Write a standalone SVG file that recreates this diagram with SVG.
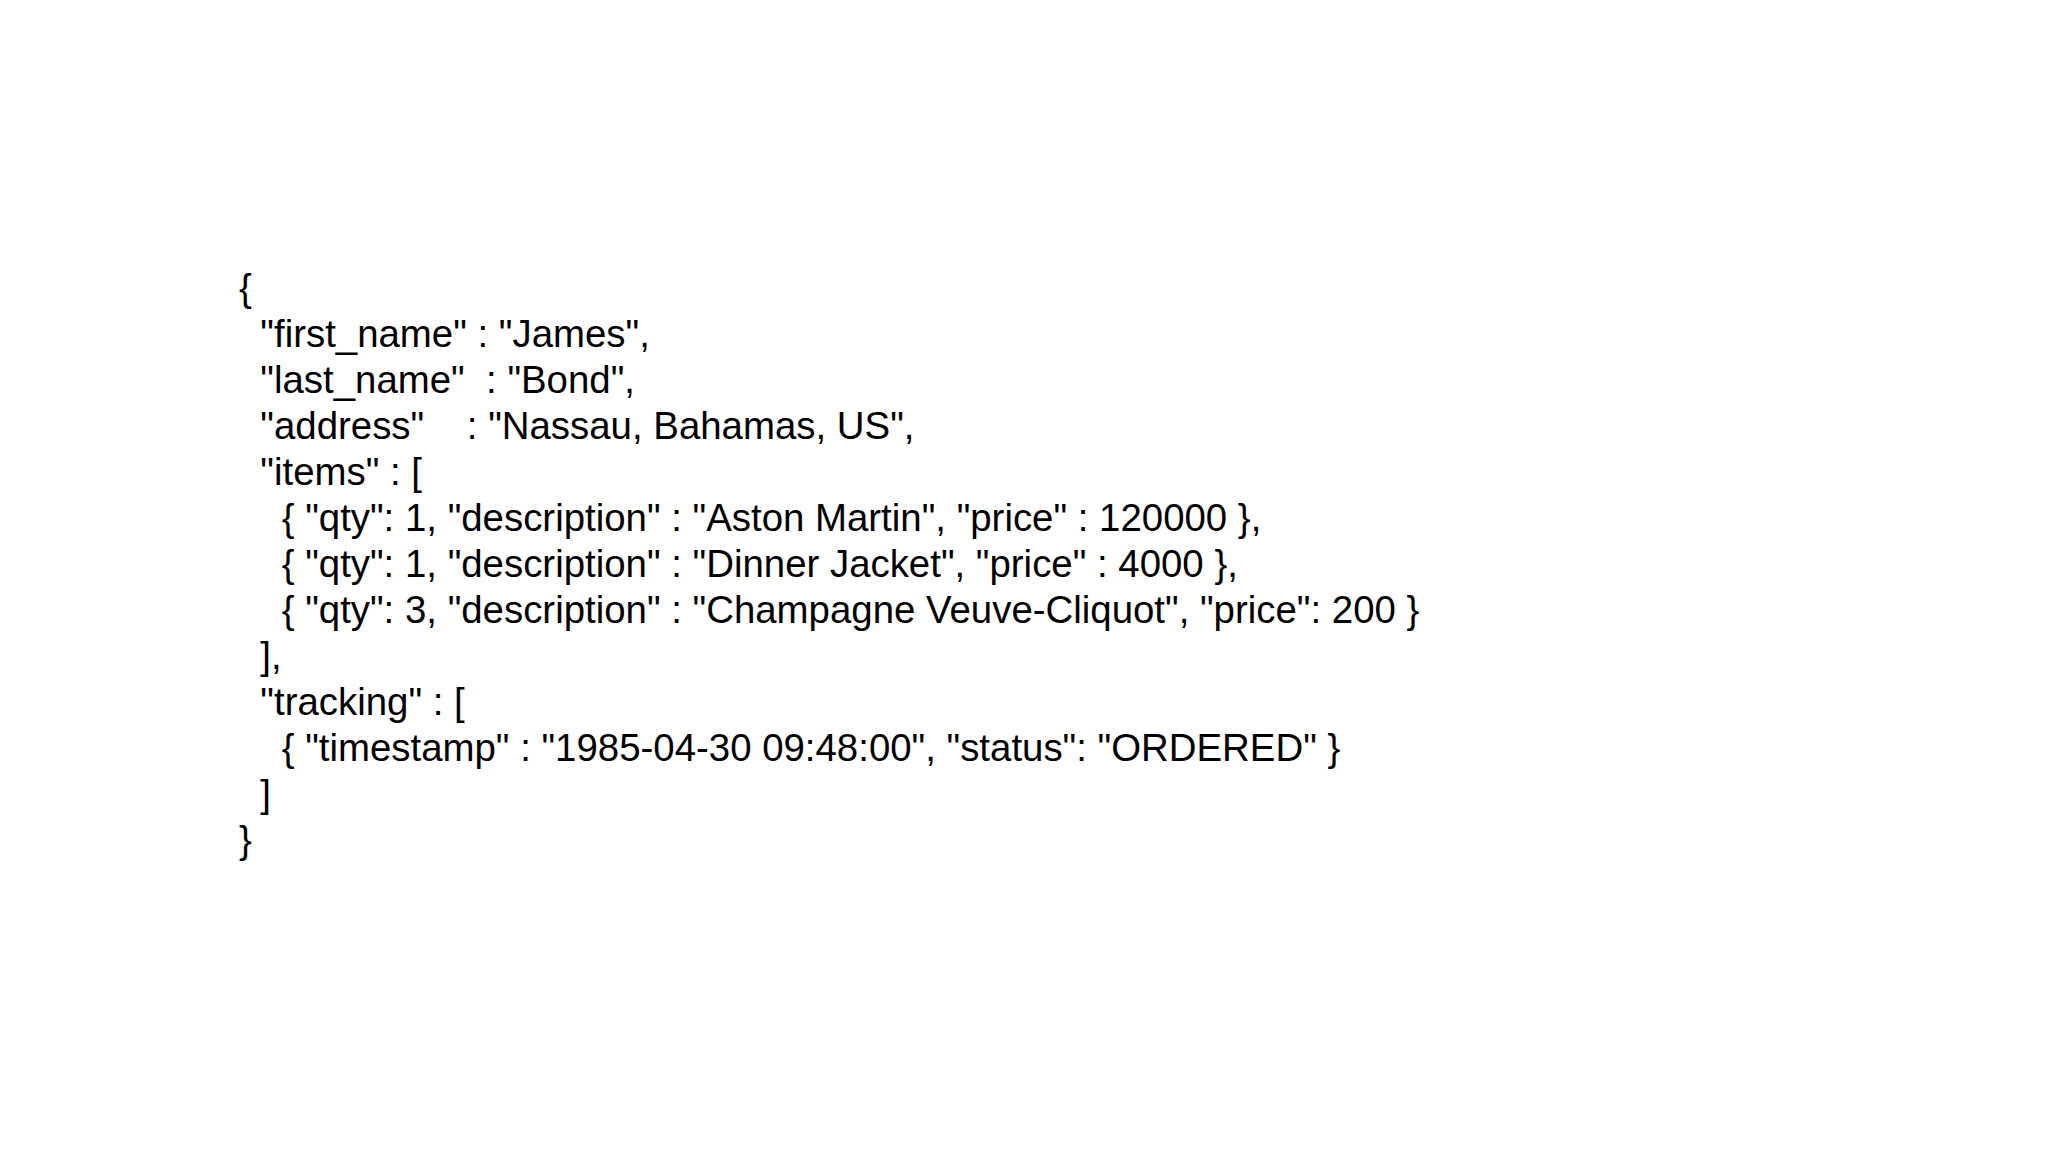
<svg xmlns="http://www.w3.org/2000/svg" width="2048" height="1152" viewBox="0 0 2048 1152">
<style>text{font-family:"Liberation Sans",Arial,sans-serif;font-size:38.4px;fill:#000;white-space:pre}</style>
<rect width="2048" height="1152" fill="#fff"/>
<g id="json" xml:space="preserve">
<text x="239" y="301">{</text>
<text x="239" y="347">  "first_name" : "James",</text>
<text x="239" y="393">  "last_name"  : "Bond",</text>
<text x="239" y="439">  "address"    : "Nassau, Bahamas, US",</text>
<text x="239" y="485">  "items" : [</text>
<text x="239" y="531">    { "qty": 1, "description" : "Aston Martin", "price" : 120000 },</text>
<text x="239" y="577">    { "qty": 1, "description" : "Dinner Jacket", "price" : 4000 },</text>
<text x="239" y="623">    { "qty": 3, "description" : "Champagne Veuve-Cliquot", "price": 200 }</text>
<text x="239" y="669">  ],</text>
<text x="239" y="715">  "tracking" : [</text>
<text x="239" y="761">    { "timestamp" : "1985-04-30 09:48:00", "status": "ORDERED" }</text>
<text x="239" y="807">  ]</text>
<text x="239" y="853">}</text>
</g>
</svg>
